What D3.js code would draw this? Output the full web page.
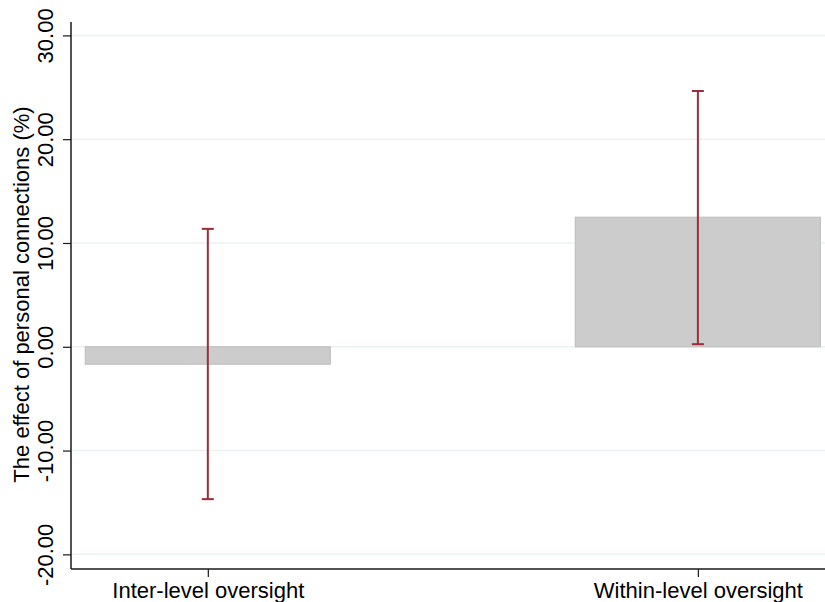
<!DOCTYPE html>
<html>
<head>
<meta charset="utf-8">
<script src="https://cdn.jsdelivr.net/npm/d3@7"></script>
<style>
  html, body { margin: 0; padding: 0; background: #fff; }
  svg { display: block; font-family: "Liberation Sans", Arial, Helvetica, sans-serif; }
</style>
</head>
<body>
<svg id="chart" width="825" height="602"></svg>
<script>
// ---- Data ----
const categories = ["Inter-level oversight", "Within-level oversight"];
const effects = [-1.68, 12.48];
const ciLower = [-14.68, 0.25];
const ciUpper = [11.36, 24.64];
const yTicks = [-20, -10, 0, 10, 20, 30];
const yTitle = "The effect of personal connections (%)";

// ---- Layout ----
const mLeft = 71, mRight = 825, mTop = 22, mBottom = 569;
const svg = d3.select("#chart");

const x = d3.scaleLinear().domain([0.7208, 2.2594]).range([mLeft, mRight]);
const y = d3.scaleLinear().domain([-21.41, 31.29]).range([mBottom, mTop]);
const barW = 0.5;
const fmt = d => d.toFixed(2);

// gridlines
svg.append("g").selectAll("line").data(yTicks).join("line")
  .attr("x1", mLeft).attr("x2", mRight)
  .attr("y1", d => y(d)).attr("y2", d => y(d))
  .attr("stroke", "#eaf2f3").attr("stroke-width", 1.5);

// bars
const data = categories.map((c, i) => ({ c, i: i + 1, v: effects[i], lo: ciLower[i], hi: ciUpper[i] }));
svg.append("g").selectAll("rect").data(data).join("rect")
  .attr("x", d => x(d.i - barW / 2))
  .attr("width", d => x(d.i + barW / 2) - x(d.i - barW / 2))
  .attr("y", d => y(Math.max(0, d.v)))
  .attr("height", d => Math.abs(y(d.v) - y(0)))
  .attr("fill", "#cccccc").attr("stroke", "#c2c2c2").attr("stroke-width", 1.2);

// error bars
const eb = svg.append("g").attr("stroke", "#9a2f3b").attr("stroke-width", 2).attr("fill", "none");
data.forEach(d => {
  eb.append("line").attr("x1", x(d.i)).attr("x2", x(d.i)).attr("y1", y(d.lo)).attr("y2", y(d.hi));
  eb.append("line").attr("x1", x(d.i) - 6).attr("x2", x(d.i) + 6).attr("y1", y(d.lo)).attr("y2", y(d.lo));
  eb.append("line").attr("x1", x(d.i) - 6).attr("x2", x(d.i) + 6).attr("y1", y(d.hi)).attr("y2", y(d.hi));
});

// y axis
const yAxis = d3.axisLeft(y).tickValues(yTicks).tickFormat(fmt).tickSize(8).tickSizeOuter(0);
const gy = svg.append("g").attr("transform", `translate(${mLeft},0)`).call(yAxis);
gy.select(".domain").attr("stroke", "#1a1a1a").attr("stroke-width", 1.5).attr("d", `M0,${mTop}V${mBottom}`);
gy.selectAll(".tick line").attr("stroke", "#1a1a1a").attr("stroke-width", 1.2);
gy.selectAll(".tick text")
  .attr("font-size", 22).attr("fill", "#000")
  .attr("text-anchor", "middle")
  .attr("x", null).attr("dy", null)
  .attr("transform", "translate(-18,0) rotate(-90)")
  .attr("y", 0);

// x axis
const xAxis = d3.axisBottom(x).tickValues([1, 2]).tickFormat(d => categories[d - 1]).tickSize(8).tickSizeOuter(0);
const gx = svg.append("g").attr("transform", `translate(0,${mBottom})`).call(xAxis);
gx.select(".domain").attr("stroke", "#1a1a1a").attr("stroke-width", 1.5).attr("d", `M${mLeft},0H${mRight}`);
gx.selectAll(".tick line").attr("stroke", "#1a1a1a").attr("stroke-width", 1.2);
gx.selectAll(".tick text").attr("font-size", 22).attr("fill", "#000").attr("dy", null).attr("y", 29);

// y title
svg.append("text")
  .attr("transform", `translate(29,${(107 + 482) / 2}) rotate(-90)`)
  .attr("text-anchor", "middle")
  .attr("font-size", 22).attr("fill", "#000")
  .text(yTitle);
</script>
</body>
</html>
